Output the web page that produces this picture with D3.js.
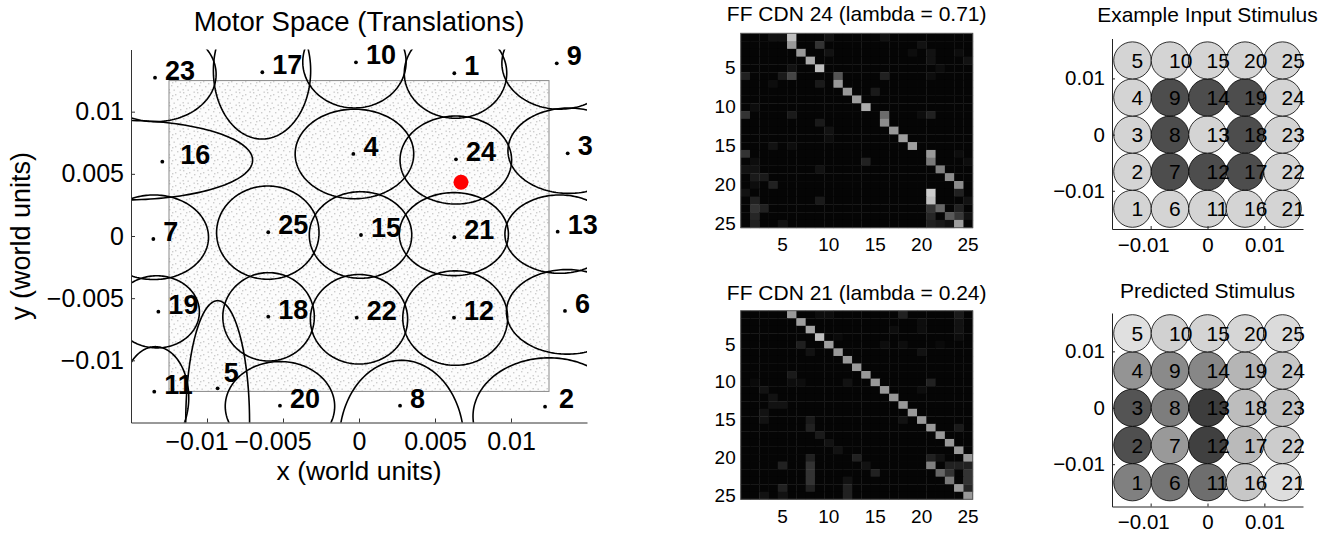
<!DOCTYPE html>
<html><head><meta charset="utf-8">
<script src="https://cdn.jsdelivr.net/npm/d3@7"></script>
<style>
body{margin:0;background:#fff;}
svg{display:block;font-family:"Liberation Sans",Arial,Helvetica,sans-serif;}
</style></head><body>
<svg id="chart" width="1333" height="533"></svg>
<script>
// ---------------- DATA ----------------
// Motor space: units, preferred locations (dots) and receptive-field contours (world units)
const motorUnits = [1,2,3,4,5,6,7,8,9,10,11,12,13,15,16,17,18,19,20,21,22,23,24,25];
const motorX = [0.00627,0.01224,0.01373,-0.00037,-0.0093,0.01355,-0.01353,0.0027,0.01301,-0.0002,-0.01347,0.00625,0.01307,0.00013,-0.01294,-0.00636,-0.00597,-0.0132,-0.0052,0.00627,-0.00015,-0.01342,0.00638,-0.00597];
const motorY = [0.01309,-0.01373,0.00665,0.0066,-0.01225,-0.00603,-0.00024,-0.01365,0.01389,0.01397,-0.01252,-0.00657,0.00035,0.00008,0.00598,0.01317,-0.00649,-0.00609,-0.01365,-0.0001,-0.00657,0.01273,0.00617,0.0003];
const rfCx = [0.00635,0.0125,0.0138,-0.0003,-0.0093,0.0137,-0.0135,0.0028,0.0132,-0.0003,-0.0134,0.00633,0.0132,0.0001,-0.0155,-0.00638,-0.00595,-0.0133,-0.0052,0.00624,0.0,-0.0134,0.00637,-0.006];
const rfCy = [0.0131,-0.0145,0.00686,0.0066,-0.015,-0.0061,-0.0001,-0.0165,0.0139,0.014,-0.013,-0.0066,0.00015,0.00008,0.0061,0.0133,-0.0065,-0.0061,-0.0137,0.00015,-0.0067,0.013,0.00611,0.00027];
const rfRx = [0.00337,0.005,0.004,0.0039,0.0021,0.004,0.0036,0.0041,0.0038,0.0034,0.0022,0.00345,0.0036,0.00337,0.0085,0.0032,0.00301,0.0028,0.0036,0.00359,0.0032,0.004,0.00367,0.00337];
const rfRy = [0.00363,0.0047,0.00343,0.0036,0.0098,0.0034,0.0034,0.0065,0.0037,0.0037,0.0041,0.0038,0.00315,0.00348,0.0032,0.0055,0.00355,0.0029,0.0036,0.00334,0.0036,0.0038,0.00354,0.00375];
const workspace = [-0.0125, 0.0125];
const stimulusPoint = [0.00671, 0.00432];
const motorXTicks = [-0.01,-0.005,0,0.005,0.01];
const motorYTicks = [-0.01,-0.005,0,0.005,0.01];

// FF CDN weight matrices: sparse [row, col, gray level]; all other cells at background level
const hmBackground = 0.02;
const hmTicks = [5,10,15,20,25];
const ff24Cells = [
 [1,4,.07],[1,5,.07],[1,6,.75],[1,10,.07],[1,16,.07],
 [2,6,.6],[2,9,.2],[2,20,.07],
 [3,7,.6],[3,10,.07],[3,19,.05],[3,21,.07],[3,24,.05],
 [4,8,.67],[4,21,.07],[4,25,.07],
 [5,9,.75],[5,6,.07],[5,22,.05],
 [6,1,.13],[6,5,.1],[6,6,.27],[6,11,.33],[6,16,.13],[6,21,.05],
 [7,4,.05],[7,9,.1],[7,11,.6],
 [8,12,.6],[8,15,.1],
 [9,13,.62],
 [10,14,.67],[10,2,.05],
 [11,1,.2],[11,6,.1],[11,16,.42],[11,21,.13],[11,20,.05],
 [12,16,.55],[12,9,.1],
 [13,17,.6],[13,10,.07],
 [14,18,.62],[14,10,.05],
 [15,19,.62],[15,4,.07],[15,6,.05],
 [16,21,.6],[16,1,.2],[16,24,.05],
 [17,21,.47],[17,14,.13],[17,25,.05],[17,2,.05],
 [18,22,.5],[18,1,.07],[18,2,.07],[18,9,.07],
 [19,23,.55],[19,2,.1],[19,3,.1],
 [20,24,.55],[20,4,.13],[20,2,.05],
 [21,21,.8],[21,24,.13],[21,1,.07],
 [22,21,.75],[22,2,.13],[22,9,.1],[22,25,.07],
 [23,21,.2],[23,22,.4],[23,24,.13],[23,2,.2],[23,3,.13],
 [24,21,.15],[24,23,.35],[24,24,.22],[24,2,.15],[24,25,.07],
 [25,21,.13],[25,22,.1],[25,23,.07],[25,24,.62],[25,2,.13],[25,5,.07]
];
const ff21Cells = [
 [1,6,.6],[1,9,.05],[1,10,.05],[1,18,.13],[1,24,.1],
 [2,7,.62],[2,24,.07],[2,20,.05],
 [3,8,.65],[3,17,.05],[3,20,.05],[3,24,.07],
 [4,9,.75],[4,11,.04],[4,24,.05],
 [5,10,.62],[5,7,.12],[5,16,.05],[5,18,.05],[5,22,.04],
 [6,11,.6],[6,8,.07],[6,20,.07],
 [7,12,.6],
 [8,13,.6],
 [9,14,.6],[9,6,.1],
 [10,15,.6],[10,6,.05],[10,7,.05],[10,12,.07],[10,2,.04],[10,21,.13],
 [11,16,.6],[11,3,.07],[11,20,.05],
 [12,17,.6],[12,4,.07],
 [13,18,.6],[13,4,.07],[13,5,.07],
 [14,19,.6],[14,3,.07],
 [15,20,.6],[15,3,.07],[15,18,.07],[15,8,.1],
 [16,21,.6],[16,8,.13],[16,24,.1],
 [17,22,.6],[17,9,.1],
 [18,23,.6],[18,10,.07],
 [19,24,.6],[19,11,.07],
 [20,25,.6],[20,21,.13],[20,22,.07],[20,8,.13],[20,13,.13],
 [21,21,.5],[21,23,.13],[21,24,.13],[21,25,.13],[21,8,.2],[21,14,.07],[21,5,.13],
 [22,22,.4],[22,23,.2],[22,25,.2],[22,8,.2],[22,15,.13],
 [23,23,.47],[23,25,.2],[23,8,.2],[23,12,.07],
 [24,24,.6],[24,25,.15],[24,8,.13],[24,12,.13],[24,5,.13],
 [25,25,.6],[25,12,.13],[25,3,.07],[25,5,.07]
];

// Stimulus grids (units 1..25, column-major from bottom-left), gray level of each disc
const gridPos = [-0.0132,-0.0066,0,0.0066,0.0132];
const discRadius = 0.0033;
const stimTicks = [-0.01,0,0.01];
const inputLevel = [.83,.83,.83,.83,.83, .83,.3,.3,.3,.83, .83,.3,.83,.3,.83, .83,.3,.3,.3,.83, .83,.83,.83,.83,.83];
const predictedLevel = [.5,.31,.33,.58,.88, .46,.6,.49,.54,.82, .43,.25,.24,.53,.83, .78,.73,.74,.71,.84, .87,.8,.77,.78,.86];

// ---------------- DRAWING ----------------
const FONT = '"Liberation Sans", Arial, Helvetica, sans-serif';
const svg = d3.select("#chart");
const defs = svg.append("defs");
const gray = d3.scaleLinear().domain([0,1]).range(["#000","#fff"]);
const fmt = d => d === 0 ? "0" : (d < 0 ? "\u2212" : "") + String(Math.abs(d));
// label placement tweaks (pixels) for a few unit numbers
const labelShift = {16: [18, 2], 5: [6, -6], 2: [14, 1]};

function styleAxis(g, size, color) {
  g.attr("font-family", FONT).attr("font-size", size);
  g.selectAll("text").attr("fill", "#000");
  g.select(".domain").attr("stroke", color).attr("stroke-width", 1);
  g.selectAll(".tick line").attr("stroke", color);
}

// ===== Panel 1: Motor space =====
const xm = d3.scaleLinear().domain([-0.015, 0.015]).range([131, 587]);
const ym = d3.scaleLinear().domain([-0.015, 0.015]).range([422.5, 49.5]);

const pat = defs.append("pattern").attr("id","stip").attr("patternUnits","userSpaceOnUse")
  .attr("width",14).attr("height",13);
pat.append("rect").attr("width",14).attr("height",13).attr("fill","#fcfcfc");
[[1,1],[7,3],[11.5,0.5],[3,7],[9,8],[0.5,11],[5.5,11.5],[12,5],[4,4]].forEach(p =>
  pat.append("rect").attr("x",p[0]).attr("y",p[1]).attr("width",1.4).attr("height",1.4).attr("fill","#cdcdcd"));

defs.append("clipPath").attr("id","mclip").append("rect")
  .attr("x", xm.range()[0]).attr("y", ym.range()[1])
  .attr("width", xm.range()[1]-xm.range()[0]).attr("height", ym.range()[0]-ym.range()[1]);

const p1 = svg.append("g");
p1.append("rect")
  .attr("x", xm(workspace[0])).attr("y", ym(workspace[1]))
  .attr("width", xm(workspace[1]) - xm(workspace[0]))
  .attr("height", ym(workspace[0]) - ym(workspace[1]))
  .attr("fill","url(#stip)").attr("stroke","#8a8a8a").attr("stroke-width",1);

const ellLine = d3.line().x(d => xm(d[0])).y(d => ym(d[1])).curve(d3.curveLinearClosed);
const angles = d3.range(0, 360, 2).map(a => a*Math.PI/180);
p1.append("g").attr("clip-path","url(#mclip)")
  .selectAll("path").data(motorUnits.map((u,i) => i)).join("path")
  .attr("d", i => ellLine(angles.map(t => [rfCx[i] + rfRx[i]*Math.cos(t), rfCy[i] + rfRy[i]*Math.sin(t)])))
  .attr("fill","none").attr("stroke","#000").attr("stroke-width",1.6);

p1.append("g").selectAll("circle").data(motorUnits.map((u,i) => i)).join("circle")
  .attr("cx", i => xm(motorX[i])).attr("cy", i => ym(motorY[i])).attr("r", 1.9).attr("fill","#000");
p1.append("g").selectAll("text").data(motorUnits.map((u,i) => i)).join("text")
  .attr("x", i => xm(motorX[i]) + (labelShift[motorUnits[i]] ? labelShift[motorUnits[i]][0] : 10))
  .attr("y", i => ym(motorY[i]) + (labelShift[motorUnits[i]] ? labelShift[motorUnits[i]][1] : 2))
  .attr("font-size", 27).attr("font-weight","bold").attr("fill","#000")
  .text(i => motorUnits[i]);

p1.append("circle").attr("cx", xm(stimulusPoint[0])).attr("cy", ym(stimulusPoint[1]))
  .attr("r", 7.5).attr("fill", "#ff0000");

const gx1 = p1.append("g").attr("transform", `translate(0,${ym.range()[0]})`)
  .call(d3.axisBottom(xm).tickValues(motorXTicks).tickSize(-4).tickSizeOuter(0).tickPadding(10).tickFormat(fmt));
styleAxis(gx1, 25, "#333");
gx1.selectAll(".tick text").filter(d => d < 0).attr("dx", "-0.42em");
const gy1 = p1.append("g").attr("transform", `translate(${xm.range()[0]},0)`)
  .call(d3.axisLeft(ym).tickValues(motorYTicks).tickSize(-4).tickSizeOuter(0).tickPadding(7).tickFormat(fmt));
styleAxis(gy1, 25, "#333");

p1.append("text").attr("x", (xm.range()[0]+xm.range()[1])/2).attr("y", 31)
  .attr("text-anchor","middle").attr("font-size", 27.5).text("Motor Space (Translations)");
p1.append("text").attr("x", (xm.range()[0]+xm.range()[1])/2).attr("y", 480)
  .attr("text-anchor","middle").attr("font-size", 26.5).text("x (world units)");
p1.append("text").attr("transform", `translate(30,${(ym.range()[0]+ym.range()[1])/2}) rotate(-90)`)
  .attr("text-anchor","middle").attr("font-size", 27).text("y (world units)");

// ===== Panel 2: heatmaps =====
function heatmap(cells, top, bottom, title, titleY) {
  const cols = d3.scaleBand().domain(d3.range(1,26)).range([740.7, 972.7]);
  const rows = d3.scaleBand().domain(d3.range(1,26)).range([top, bottom]);
  const m = new Map(cells.map(c => [c[0] + "-" + c[1], c[2]]));
  const g = svg.append("g");
  g.selectAll("rect.cell").data(d3.cross(d3.range(1,26), d3.range(1,26))).join("rect")
    .attr("class","cell")
    .attr("x", d => cols(d[1])).attr("y", d => rows(d[0]))
    .attr("width", cols.bandwidth() + 0.4).attr("height", rows.bandwidth() + 0.4)
    .attr("fill", d => gray(m.has(d[0]+"-"+d[1]) ? m.get(d[0]+"-"+d[1]) : hmBackground));
  g.append("rect").attr("x", 740.7).attr("y", top).attr("width", 232).attr("height", bottom-top)
    .attr("fill","none").attr("stroke","#555").attr("stroke-width",1);
  const gl = g.append("g").attr("transform","translate(740.7,0)")
    .call(d3.axisLeft(rows).tickValues(hmTicks).tickSize(0).tickPadding(5));
  styleAxis(gl, 19, "#000"); gl.select(".domain").remove();
  const gb = g.append("g").attr("transform",`translate(0,${bottom})`)
    .call(d3.axisBottom(cols).tickValues(hmTicks).tickSize(0).tickPadding(10));
  styleAxis(gb, 19, "#000"); gb.select(".domain").remove();
  g.append("text").attr("x", 856.7).attr("y", titleY).attr("text-anchor","middle")
    .attr("font-size", 21).text(title);
}
heatmap(ff24Cells, 33.3, 227.7, "FF CDN 24 (lambda = 0.71)", 21);
heatmap(ff21Cells, 310.7, 499.3, "FF CDN 21 (lambda = 0.24)", 299.5);

// ===== Panel 3: stimulus grids =====
function stimPanel(levels, yTop, yBottom, yDomain, title, titleY) {
  const xs = d3.scaleLinear().domain([-0.0168, 0.0168]).range([1112, 1303]);
  const ys = d3.scaleLinear().domain(yDomain).range([yBottom, yTop]);
  const g = svg.append("g");
  const units = d3.range(1, 26);
  const cx = u => gridPos[Math.floor((u-1)/5)];
  const cy = u => gridPos[(u-1) % 5];
  g.selectAll("ellipse").data(units).join("ellipse")
    .attr("cx", u => xs(cx(u))).attr("cy", u => ys(cy(u)))
    .attr("rx", xs(discRadius) - xs(0)).attr("ry", ys(0) - ys(discRadius))
    .attr("fill", u => gray(levels[u-1])).attr("stroke","#000").attr("stroke-width",0.8);
  g.selectAll("text.lab").data(units).join("text").attr("class","lab")
    .attr("x", u => xs(cx(u)) - 1).attr("y", u => ys(cy(u))).attr("dy","0.36em")
    .attr("font-size", 21).attr("fill","#000").text(u => u);
  const gb = g.append("g").attr("transform",`translate(0,${yBottom})`)
    .call(d3.axisBottom(xs).tickValues(stimTicks).tickSize(-3).tickSizeOuter(0).tickPadding(8).tickFormat(fmt));
  styleAxis(gb, 20.5, "#222");
  gb.selectAll(".tick text").filter(d => d < 0).attr("dx", "-0.36em");
  const gl = g.append("g").attr("transform",`translate(1112,0)`)
    .call(d3.axisLeft(ys).tickValues(stimTicks).tickSize(-3).tickSizeOuter(0).tickPadding(7).tickFormat(fmt));
  styleAxis(gl, 20.5, "#222");
  g.append("text").attr("x", 1207.5).attr("y", titleY).attr("text-anchor","middle")
    .attr("font-size", 21).text(title);
}
stimPanel(inputLevel, 38.5, 229, [-0.0168, 0.0171], "Example Input Stimulus", 22);
stimPanel(predictedLevel, 313, 506.5, [-0.0175, 0.0168], "Predicted Stimulus", 298);
</script>
</body></html>
